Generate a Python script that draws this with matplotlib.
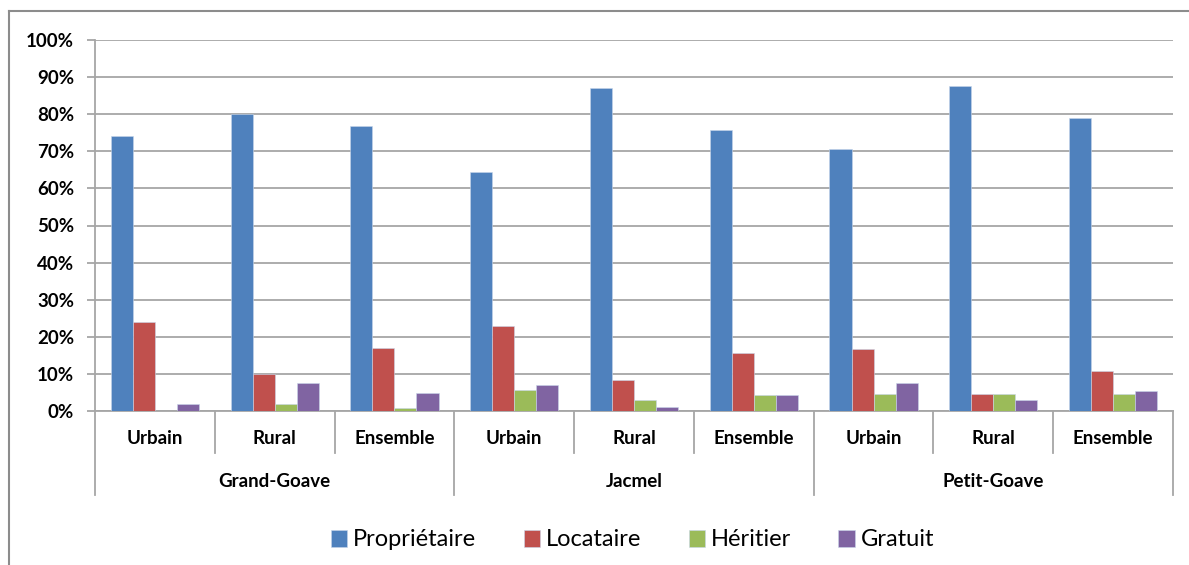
import matplotlib.pyplot as plt
import numpy as np
from matplotlib.lines import Line2D
from matplotlib.ticker import PercentFormatter

plt.rcParams['font.family'] = ['Lato', 'DejaVu Sans']

# data
communes = ['Grand-Goave', 'Jacmel', 'Petit-Goave']
milieux = ['Urbain', 'Rural', 'Ensemble']
series = ['Propriétaire', 'Locataire', 'Héritier', 'Gratuit']
colors = ['#4F81BD', '#C0504D', '#9BBB59', '#8064A2']

proprietaire = [74.0, 80.0, 76.7, 64.3, 87.1, 75.7, 70.5, 87.5, 79.1]
locataire = [24.0, 10.0, 16.9, 22.8, 8.4, 15.6, 16.6, 4.6, 10.8]
heritier = [0.0, 1.8, 0.8, 5.7, 2.9, 4.3, 4.6, 4.6, 4.6]
gratuit = [1.8, 7.6, 4.9, 7.0, 1.2, 4.3, 7.6, 2.9, 5.3]
values = [proprietaire, locataire, heritier, gratuit]

fig = plt.figure(figsize=(11.89, 5.65), dpi=100)
ax = fig.add_axes([95 / 1189, 1 - 411 / 565, (1173 - 95) / 1189, 371 / 565])

n = len(proprietaire)
x = np.arange(n)
w = 0.184
for k, (vals, c) in enumerate(zip(values, colors)):
    ax.bar(x + (k - 1.5) * w, vals, width=w, color=c, edgecolor='#c8d6ea',
           linewidth=0.4, label=series[k], zorder=3)

ax.set_xlim(-0.5, n - 0.5)
ax.set_ylim(0, 100)
ax.set_yticks(np.arange(0, 101, 10))
ax.yaxis.set_major_formatter(PercentFormatter(decimals=0))
ax.grid(axis='y', color='#a6a6a6', linewidth=1.3, zorder=0)
for s in ['top', 'right']:
    ax.spines[s].set_visible(False)
ax.spines['left'].set_color('#a6a6a6')
ax.spines['left'].set_linewidth(1.3)
ax.spines['bottom'].set_color('#a6a6a6')
ax.spines['bottom'].set_linewidth(1.3)
ax.tick_params(axis='y', length=6, width=1.3, color='#a6a6a6', labelsize=13.5, pad=9)
ax.tick_params(axis='x', length=0)
ax.set_xticks([])
for lab in ax.get_yticklabels():
    lab.set_fontweight('bold')

# hierarchical category axis
trans = ax.get_xaxis_transform()
for b in range(n + 1):
    bottom = -0.226 if b % 3 == 0 else -0.113
    ax.plot([b - 0.5, b - 0.5], [0, bottom], color='#a6a6a6', lw=1.3,
            transform=trans, clip_on=False)
for i in range(n):
    ax.text(i, -0.073, milieux[i % 3], transform=trans, ha='center', va='center',
            fontsize=13.5, fontweight='bold')
for g, name in enumerate(communes):
    ax.text(3 * g + 1, -0.19, name, transform=trans, ha='center', va='center',
            fontsize=13.5, fontweight='bold')

leg = fig.legend(loc='center', bbox_to_anchor=(0.532, 1 - 540 / 565), ncol=4,
                 frameon=False, fontsize=17, handlelength=0.7, handleheight=0.7,
                 handletextpad=0.25, columnspacing=2.0)

# chart area border (left and top visible)
fig.add_artist(Line2D([9 / 1189, 9 / 1189], [0, 1 - 11 / 565], color='#8c8c8c', lw=1.5))
fig.add_artist(Line2D([9 / 1189, 1], [1 - 11 / 565, 1 - 11 / 565], color='#8c8c8c', lw=1.5))

fig.savefig('out.png', dpi=100)
